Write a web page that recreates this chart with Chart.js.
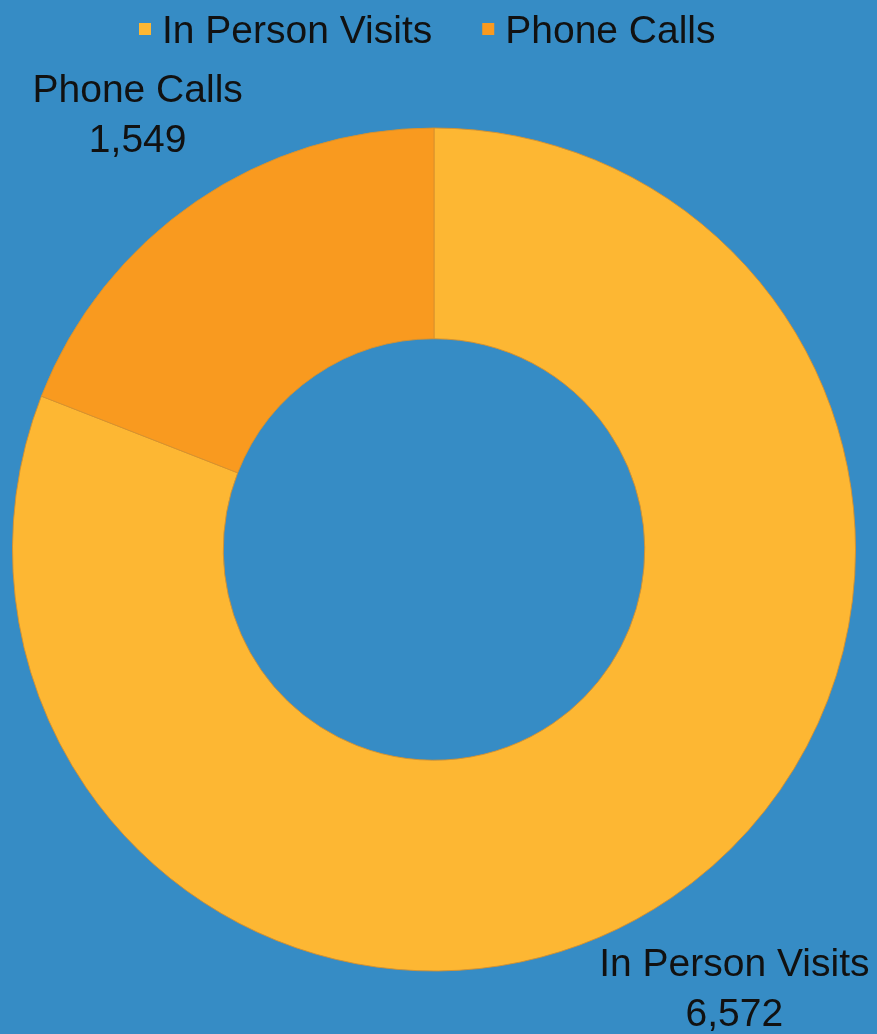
<!DOCTYPE html>
<html>
<head>
<meta charset="utf-8">
<script src="https://cdn.jsdelivr.net/npm/chart.js@4"></script>
<style>
  html, body { margin: 0; padding: 0; background: #368CC5; }
  #wrap { width: 877px; height: 1034px; position: relative; }
</style>
</head>
<body>
<div id="wrap"><canvas id="c" width="877" height="1034"></canvas></div>
<script>
const categories = ["In Person Visits", "Phone Calls"];
const values = [6572, 1549];
const valueLabels = ["6,572", "1,549"];
const colors = ["#FDB733", "#F99A1F"];

const FONT = "'Liberation Sans', Arial, Helvetica, sans-serif";

// legend drawn from the chart's own label list
const topLegend = {
  id: 'topLegend',
  afterDraw(chart) {
    const ctx = chart.ctx;
    const items = chart.options.plugins.legend.labels.generateLabels(chart);
    ctx.save();
    ctx.font = "39px " + FONT;
    const box = 12, gapText = 11, gapItem = 50;
    const widths = items.map(it => box + gapText + ctx.measureText(it.text).width);
    let x = 139;
    const yMid = 29;
    items.forEach((it, i) => {
      ctx.fillStyle = it.fillStyle;
      ctx.fillRect(x, yMid - box / 2, box, box);
      ctx.fillStyle = "#111";
      ctx.textAlign = "left";
      ctx.textBaseline = "alphabetic";
      ctx.fillText(it.text, x + box + gapText, 43);
      x += widths[i] + gapItem;
    });
    ctx.restore();
  }
};

const outsideLabels = {
  id: 'outsideLabels',
  afterDraw(chart) {
    const ctx = chart.ctx;
    const meta = chart.getDatasetMeta(0);
    ctx.save();
    ctx.font = "39px " + FONT;
    ctx.fillStyle = "#111";
    ctx.textAlign = "center";
    ctx.textBaseline = "middle";
    meta.data.forEach((arc, i) => {
      const p = arc.getProps(['x', 'y', 'startAngle', 'endAngle', 'outerRadius'], true);
      const mid = (p.startAngle + p.endAngle) / 2;
      const r = p.outerRadius * 1.255;
      const cx = p.x + Math.cos(mid) * r + 2;
      const cy = p.y + Math.sin(mid) * r + 4;
      ctx.fillText(categories[i], cx, cy - 25);
      ctx.fillText(valueLabels[i], cx, cy + 25);
    });
    ctx.restore();
  }
};

new Chart(document.getElementById('c'), {
  type: 'doughnut',
  data: {
    labels: categories,
    datasets: [{
      data: values,
      backgroundColor: colors,
      borderColor: "rgba(215,145,45,0.9)",
      borderWidth: 1,
      hoverOffset: 0
    }]
  },
  options: {
    responsive: false,
    animation: false,
    cutout: '50%',
    layout: { padding: { left: 12, right: 21, top: 65, bottom: 0 } },
    plugins: {
      tooltip: { enabled: false },
      legend: { display: false }
    }
  },
  plugins: [topLegend, outsideLabels]
});
</script>
</body>
</html>
